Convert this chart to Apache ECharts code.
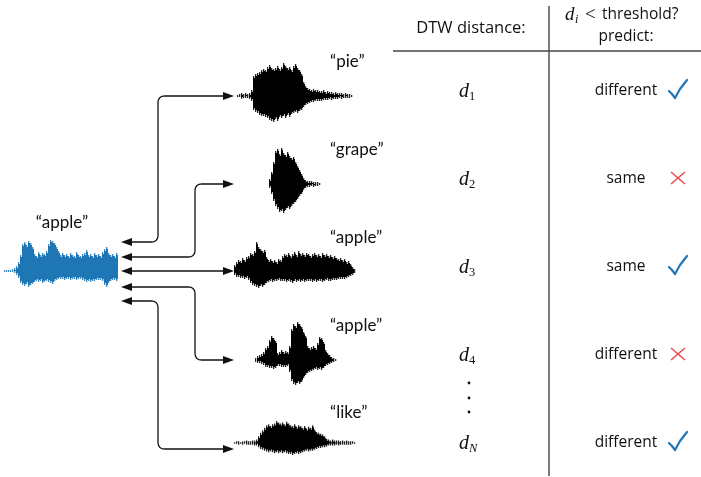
<!DOCTYPE html>
<html><head><meta charset="utf-8">
<script src="https://cdn.jsdelivr.net/npm/echarts@6/dist/echarts.min.js"></script>
<style>html,body{margin:0;padding:0;background:#fff}#c{width:701px;height:477px}</style>
</head><body><div id="c"></div>
<script>
// ---------- data ----------
const queryLabel = 'apple';
const wordLabels = ['pie', 'grape', 'apple', 'apple', 'like'];
const distSubscripts = ['1', '2', '3', '4', 'N'];
const predictions = ['different', 'same', 'same', 'different', 'different'];
const correct = [true, false, true, false, true];
const headerLeft = 'DTW distance:';
const headerRight1 = 'threshold?';
const headerRight2 = 'predict:';

// waveform envelopes (upper / lower amplitude per sample)
const queryUp   = [1,1,1,1,2,3,5,9,16,27,29,26,30,28,24,17,15,19,16,18,17,20,27,31,30,28,24,20,16,18,16,17,15,18,16,15,19,16,15,17,18,21,16,17,15,18,16,17,15,19,22,24,18,16,17,15,18];
const queryDown = [1,1,1,1,1,2,4,7,12,14,15,13,16,14,13,11,10,11,10,12,11,10,11,12,13,10,9,8,8,8,9,8,8,9,8,8,9,8,8,9,10,11,10,11,10,10,9,9,9,10,14,16,12,10,9,9,10];
const pieUp   = [1,2,3,2,3,2,3,6,20,22,23,24,26,27,26,29,31,28,27,28,30,27,29,33,30,28,29,26,30,32,28,26,22,14,10,8,7,6,7,6,6,5,5,6,4,5,4,4,3,4,3,3,3,2,3,2,2,1];
const pieDown = [1,1,3,2,2,2,3,5,14,16,17,19,20,20,21,22,24,25,26,23,25,21,22,20,22,19,21,18,17,16,17,15,14,11,9,8,7,6,6,5,5,5,5,4,4,4,3,4,3,3,3,2,3,2,2,2,2,1];
const grapeUp   = [5,12,22,33,35,30,36,31,29,32,28,26,27,22,18,14,10,6,4,3,3,3,2,2,2,1];
const grapeDown = [4,10,17,22,25,28,27,29,26,24,25,22,20,18,15,12,10,6,4,3,3,2,3,2,2,1];
const apple3Up   = [6,9,11,10,13,11,14,15,18,17,20,29,24,22,20,21,14,11,12,10,11,9,12,11,15,17,16,18,15,17,19,16,20,17,18,16,18,17,15,17,18,16,17,15,18,16,17,15,16,14,15,13,12,13,11,12,9,10,7,4,2];
const apple3Down = [4,6,6,7,7,8,7,9,12,14,15,16,17,15,16,14,12,11,10,11,10,10,9,10,10,10,11,10,11,12,10,11,10,11,10,11,10,10,10,11,10,11,10,10,11,10,9,10,10,9,9,9,8,8,8,8,7,6,5,4,2];
const apple4Up   = [2,4,5,6,8,12,14,20,24,22,19,7,8,10,8,9,8,14,31,36,34,38,36,33,28,24,14,12,13,14,12,17,23,22,18,10,7,5,3,2,1];
const apple4Down = [2,3,3,4,5,7,7,8,8,9,8,6,6,7,7,7,6,12,21,24,25,23,24,22,18,15,13,12,11,10,9,10,9,10,8,6,5,4,3,2,1];
const likeUp   = [1,2,2,1,2,2,3,2,2,3,3,4,8,12,15,18,21,22,20,22,23,26,24,23,24,22,25,23,21,20,22,19,21,20,18,20,17,19,18,21,16,13,12,11,10,8,5,4,3,4,3,3,3,2,3,2,3,2,2,2,1];
const likeDown = [1,1,2,1,2,1,2,2,2,2,3,3,5,7,8,9,10,11,10,11,12,11,12,11,12,11,12,13,13,14,13,12,13,12,11,10,9,10,9,9,8,7,6,6,5,5,4,3,3,3,3,2,3,2,2,2,2,2,2,1,1];

// ---------- layout / style ----------
const BLUE = '#1f77b4', RED = '#e8474c', LINE = '#111';
const waves = [
  { up: queryUp,  down: queryDown,  color: BLUE,   left: 4,   cy: 271 },
  { up: pieUp,    down: pieDown,    color: '#000', left: 237, cy: 96 },
  { up: grapeUp,  down: grapeDown,  color: '#000', left: 269, cy: 184 },
  { up: apple3Up, down: apple3Down, color: '#000', left: 234, cy: 271 },
  { up: apple4Up, down: apple4Down, color: '#000', left: 255, cy: 360 },
  { up: likeUp,   down: likeDown,   color: '#000', left: 234, cy: 449 }
];
const SAMPLE_PX = 2, AMP = 40;
const connectors = [
  { yL: 242, xV: 158 }, { yL: 257, xV: 195 }, { yL: 271, xV: null },
  { yL: 287, xV: 195 }, { yL: 301, xV: 158 }
];
const rowY = [92, 180, 268, 356, 444];
const labelY = [62, 150, 238, 326, 413];

const grids = [], xAxes = [], yAxes = [], series = [];
waves.forEach((w, i) => {
  const n = w.up.length;
  grids.push({ left: w.left, top: w.cy - AMP, width: n * SAMPLE_PX, height: 2 * AMP });
  xAxes.push({ gridIndex: i, type: 'value', min: -0.5, max: n - 0.5, show: false });
  yAxes.push({ gridIndex: i, type: 'value', min: -AMP, max: AMP, show: false });
  series.push({
    type: 'custom', xAxisIndex: i, yAxisIndex: i, silent: true, clip: false,
    data: w.up.map((u, k) => [k, u, w.down[k]]),
    encode: { x: 0, y: 1 },
    renderItem: (params, api) => {
      const k = api.value(0);
      const t = api.coord([k, api.value(1)]);
      const b = api.coord([k, -api.value(2)]);
      const sw = api.size([1, 0])[0];
      return { type: 'group', children: [
        { type: 'rect', shape: { x: t[0] - sw / 2, y: t[1] + 2, width: sw, height: Math.max(0, b[1] - t[1] - 4) },
          style: { fill: w.color } },
        { type: 'line', shape: { x1: t[0] - 0.3, y1: t[1], x2: t[0] - 0.3, y2: b[1] },
          style: { stroke: w.color, lineWidth: 1.1 } }
      ] };
    }
  });
});

function rounded(pts, r) {
  const out = [pts[0]];
  for (let k = 1; k < pts.length - 1; k++) {
    const [px, py] = pts[k - 1], [cx, cy] = pts[k], [nx, ny] = pts[k + 1];
    const d1 = Math.hypot(cx - px, cy - py), d2 = Math.hypot(nx - cx, ny - cy);
    const a = [cx - (cx - px) / d1 * r, cy - (cy - py) / d1 * r];
    const b = [cx + (nx - cx) / d2 * r, cy + (ny - cy) / d2 * r];
    for (let s = 0; s <= 8; s++) {
      const t = s / 8, mt = 1 - t;
      out.push([mt * mt * a[0] + 2 * mt * t * cx + t * t * b[0], mt * mt * a[1] + 2 * mt * t * cy + t * t * b[1]]);
    }
  }
  out.push(pts[pts.length - 1]);
  return out;
}

const g = [];
const XL = 131, XR = 224, TIPL = 121, TIPR = 234;
connectors.forEach((c, i) => {
  const yR = waves[i + 1].cy;
  const pts = c.xV === null ? [[XL, c.yL], [XR, yR]]
    : rounded([[XL, c.yL], [c.xV, c.yL], [c.xV, yR], [XR, yR]], 7);
  g.push({ type: 'polyline', shape: { points: pts }, style: { stroke: LINE, lineWidth: 1.3, fill: null } });
  g.push({ type: 'polygon', shape: { points: [[TIPL, c.yL], [TIPL + 11, c.yL - 4], [TIPL + 11, c.yL + 4]] }, style: { fill: LINE } });
  g.push({ type: 'polygon', shape: { points: [[TIPR, yR], [TIPR - 11, yR - 4], [TIPR - 11, yR + 4]] }, style: { fill: LINE } });
});

function txt(text, x, y, size, family, align, extra) {
  return Object.assign({ type: 'text', x: x, y: y,
    style: Object.assign({ text: text, fontSize: size, fontFamily: family, fill: '#111',
      align: align, verticalAlign: 'middle', textAlign: align, textVerticalAlign: 'middle' }, extra || {}) });
}
const LBL = 'Lato', SANS = 'Open Sans', SERIF = 'Liberation Serif';

g.push(txt('\u201c' + queryLabel + '\u201d', 62, 223, 17, LBL, 'center'));
wordLabels.forEach((w, i) => g.push(txt('\u201c' + w + '\u201d', 330, labelY[i], 17, LBL, 'left')));

// table
g.push({ type: 'line', shape: { x1: 549, y1: 6, x2: 549, y2: 476 }, style: { stroke: '#444', lineWidth: 1.4 } });
g.push({ type: 'line', shape: { x1: 393, y1: 51, x2: 701, y2: 51 }, style: { stroke: '#444', lineWidth: 1.4 } });
g.push(txt(headerLeft, 471, 28, 16.5, SANS, 'center'));
g.push(txt('d', 565, 15, 19, SERIF, 'left', { fontStyle: 'italic' }));
g.push(txt('i', 575, 20, 12, SERIF, 'left', { fontStyle: 'italic' }));
g.push(txt('<', 585, 15, 19, SERIF, 'left'));
g.push(txt(headerRight1, 602, 15, 15.5, SANS, 'left'));
g.push(txt(headerRight2, 626, 37, 15.5, SANS, 'center'));

distSubscripts.forEach((s, i) => {
  g.push(txt('d', 459, rowY[i], 20, SERIF, 'left', { fontStyle: 'italic' }));
  g.push(txt(s, 469, rowY[i] + 5, 12.5, SERIF, 'left', { fontStyle: s === 'N' ? 'italic' : 'normal' }));
  g.push(txt(predictions[i], 626, rowY[i] - 1, 15.5, SANS, 'center'));
  const y = rowY[i] - 2;
  if (correct[i]) {
    g.push({ type: 'polyline', shape: { points: [[669, y + 1], [672, y + 4], [675, y + 8], [680, y - 1], [687, y - 10]] },
             style: { stroke: BLUE, lineWidth: 2.2, fill: null, lineJoin: 'round', lineCap: 'round' } });
  } else {
    g.push({ type: 'line', shape: { x1: 671, y1: y - 6, x2: 685, y2: y + 6 }, style: { stroke: RED, lineWidth: 1.5 } });
    g.push({ type: 'line', shape: { x1: 671, y1: y + 6, x2: 685, y2: y - 6 }, style: { stroke: RED, lineWidth: 1.5 } });
  }
});
[383, 398, 412].forEach(y => g.push({ type: 'circle', shape: { cx: 469, cy: y, r: 1.4 }, style: { fill: '#111' } }));

const chart = echarts.init(document.getElementById('c'), null, { renderer: 'canvas' });
chart.setOption({
  backgroundColor: '#fff', animation: false,
  grid: grids, xAxis: xAxes, yAxis: yAxes, series: series,
  graphic: { elements: g }
});
</script></body></html>
